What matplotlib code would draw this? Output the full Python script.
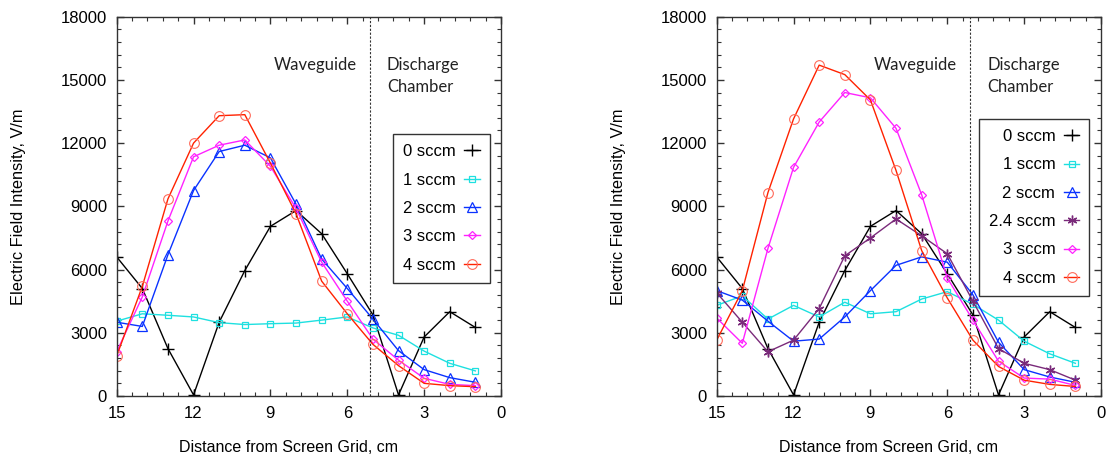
import numpy as np
import matplotlib
matplotlib.use("Agg")
import matplotlib.pyplot as plt
from matplotlib.ticker import MultipleLocator

plt.rcParams['font.family'] = ['Liberation Sans', 'DejaVu Sans']

# ---- Data ----
dist = [15, 14, 13, 12, 11, 10, 9, 8, 7, 6, 5, 4, 3, 2, 1]

# left panel
L_0 = [6600, 5100, 2250, 50, 3500, 5950, 8050, 8800, 7700, 5800, 3850, 50, 2800, 4000, 3250]
L_1 = [3550, 3900, 3830, 3750, 3480, 3390, 3430, 3460, 3600, 3750, 3230, 2880, 2130, 1550, 1190]
L_2 = [3500, 3300, 6700, 9750, 11600, 11900, 11300, 9100, 6500, 5100, 3650, 2150, 1250, 870, 650]
L_3 = [2100, 4700, 8300, 11350, 11900, 12150, 10900, 8900, 6350, 4500, 2700, 1700, 840, 550, 490]
L_4 = [1900, 5200, 9350, 12000, 13300, 13350, 11050, 8650, 5450, 3900, 2450, 1440, 600, 490, 440]

# right panel
R_0 = [6600, 5100, 2250, 50, 3500, 5950, 8050, 8800, 7700, 5800, 3850, 50, 2800, 4000, 3250]
R_1 = [4300, 4750, 3650, 4300, 3750, 4450, 3900, 4000, 4600, 4950, 4350, 3600, 2600, 2000, 1550]
R_2 = [5000, 4550, 3550, 2600, 2700, 3750, 5000, 6200, 6600, 6350, 4800, 2550, 1250, 900, 650]
R_24 = [4900, 3500, 2100, 2650, 4150, 6650, 7500, 8400, 7600, 6750, 4500, 2250, 1550, 1250, 750]
R_3 = [3700, 2500, 7000, 10850, 13000, 14400, 14150, 12700, 9550, 5600, 3600, 1650, 850, 800, 500]
R_4 = [2650, 5000, 9650, 13150, 15700, 15250, 14050, 10700, 6900, 4650, 2650, 1400, 750, 550, 450]

boundary = 5.1

fig = plt.figure(figsize=(11.06, 4.59), dpi=100)
ax1 = fig.add_axes([0.1055, 0.1373, 0.3475, 0.8264])
ax2 = fig.add_axes([0.6480, 0.1373, 0.3475, 0.8264])

styles = {
    '0':   dict(color='black', marker='+', ms=8, mew=1.0),
    '1':   dict(color='#1ee0e0', marker='s', ms=5, mew=0.9),
    '2':   dict(color='#0a32ff', marker='^', ms=7, mew=0.9),
    '2.4': dict(color='#7a2a7a', marker=(6, 2, 0), ms=7, mew=1.0),
    '3':   dict(color='#ff22ff', marker='D', ms=4.5, mew=0.9),
    '4':   dict(color='#ff2200', marker='o', ms=7, mew=0.8),
}


def series(ax, y, key, label):
    s = styles[key]
    mec = '#ff6a5a' if key == '4' else s['color']
    ax.plot(dist, y, color=s['color'], lw=1.0, marker=s['marker'], ms=s['ms'],
            mfc='none', mec=mec, mew=s['mew'], label=label)


series(ax1, L_0, '0', '0 sccm')
series(ax1, L_1, '1', '1 sccm')
series(ax1, L_2, '2', '2 sccm')
series(ax1, L_3, '3', '3 sccm')
series(ax1, L_4, '4', '4 sccm')

series(ax2, R_0, '0', '0 sccm')
series(ax2, R_1, '1', '1 sccm')
series(ax2, R_2, '2', '2 sccm')
series(ax2, R_24, '2.4', '2.4 sccm')
series(ax2, R_3, '3', '3 sccm')
series(ax2, R_4, '4', '4 sccm')

legend_pos = {ax1: (0.972, 0.690), ax2: (0.970, 0.730)}
fs = 12
region_font = dict(family=['Lato', 'DejaVu Sans'], fontsize=12, color='#222222', va='center')

for ax in (ax1, ax2):
    ax.axvline(boundary, color='#333333', lw=0.8, ls=(0, (2, 1.5)))
    ax.set_xlim(15, 0)
    ax.set_ylim(0, 18000)
    ax.xaxis.set_major_locator(MultipleLocator(3))
    ax.xaxis.set_minor_locator(MultipleLocator(0.6))
    ax.yaxis.set_major_locator(MultipleLocator(3000))
    ax.yaxis.set_minor_locator(MultipleLocator(600))
    ax.tick_params(which='both', direction='in', top=True, right=True,
                   labelsize=fs, color='#333333')
    ax.tick_params(which='major', length=5, width=1, pad=7)
    ax.tick_params(which='minor', length=3, width=0.8)
    for sp in ax.spines.values():
        sp.set_color('#333333')
        sp.set_linewidth(1.0)
    ax.set_xlabel('Distance from Screen Grid, cm', fontsize=11.5)
    ax.set_ylabel('Electric Field Intensity, V/m', fontsize=11.8)
    ax.xaxis.set_label_coords(0.446, -0.115)
    ax.yaxis.set_label_coords(-0.236, 0.5)
    ax.text(7.25, 15700, 'Waveguide', ha='center', **region_font)
    ax.text(4.45, 15700, 'Discharge', ha='left', **region_font)
    ax.text(4.45, 14650, 'Chamber', ha='left', **region_font)
    leg = ax.legend(loc='upper right', bbox_to_anchor=legend_pos[ax], markerfirst=False,
                    fancybox=False, edgecolor='#333333', framealpha=1, fontsize=fs,
                    handlelength=0.95, handletextpad=0.5, labelspacing=0.8,
                    borderpad=0.6, borderaxespad=0)
    leg.get_frame().set_linewidth(1.0)
    for t in leg.get_texts():
        t.set_ha('right')

fig.savefig('out.png', dpi=100)
